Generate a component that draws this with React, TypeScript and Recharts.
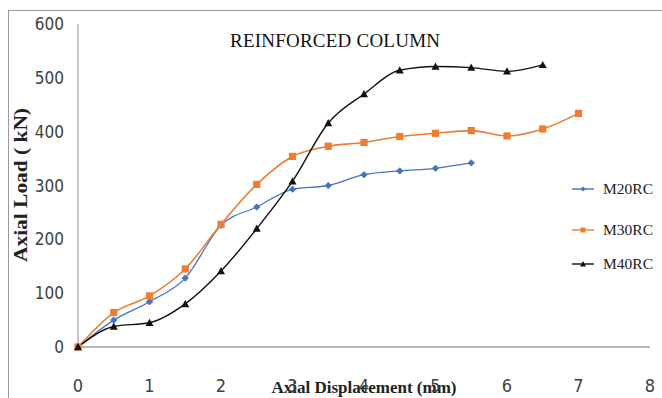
import React from 'react';
import { LineChart, Line, XAxis, YAxis } from 'recharts';

const displacement = [0, 0.5, 1, 1.5, 2, 2.5, 3, 3.5, 4, 4.5, 5, 5.5, 6, 6.5, 7];
const m20rc = [0, 50, 84, 128, 226, 260, 293, 300, 320, 327, 332, 342];
const m30rc = [0, 64, 95, 145, 228, 302, 354, 373, 380, 391, 397, 402, 392, 405, 434];
const m40rc = [0, 38, 45, 80, 141, 220, 308, 416, 470, 514, 521, 519, 512, 524];
const xTicks = [0, 1, 2, 3, 4, 5, 6, 7, 8];
const yTicks = [0, 100, 200, 300, 400, 500, 600];

const seriesNames = ['M20RC', 'M30RC', 'M40RC'];
const colors = ['#4472C4', '#ED7D31', '#111111'];

const data = displacement.map((d, i) => ({
  x: d,
  M20RC: m20rc[i],
  M30RC: m30rc[i],
  M40RC: m40rc[i],
}));

const Diamond = (props: any) => {
  const { cx, cy, key } = props;
  if (cx == null || cy == null || props.value == null) return <g key={key} />;
  const s = 3.2;
  return (
    <path key={key} d={`M${cx},${cy - s}L${cx + s},${cy}L${cx},${cy + s}L${cx - s},${cy}Z`} fill={colors[0]} stroke={colors[0]} strokeWidth={0.8} />
  );
};
const Square = (props: any) => {
  const { cx, cy, key } = props;
  if (cx == null || cy == null || props.value == null) return <g key={key} />;
  const s = 3.6;
  return <rect key={key} x={cx - s} y={cy - s} width={2 * s} height={2 * s} fill={colors[1]} />;
};
const Triangle = (props: any) => {
  const { cx, cy, key } = props;
  if (cx == null || cy == null || props.value == null) return <g key={key} />;
  const s = 4;
  return <path key={key} d={`M${cx},${cy - s}L${cx + s},${cy + s * 0.8}L${cx - s},${cy + s * 0.8}Z`} fill={colors[2]} />;
};

const tickFont = "'Liberation Sans Narrow', 'DejaVu Sans Condensed', 'Liberation Sans', sans-serif";

const XTick = (props: any) => {
  const { x, y, payload } = props;
  return (
    <text x={x} y={y + 45} textAnchor="middle" fontFamily={tickFont} fontSize={18} fill="#404040">
      {payload.value}
    </text>
  );
};
const YTick = (props: any) => {
  const { x, y, payload } = props;
  return (
    <text x={x - 14} y={y} dy="0.36em" textAnchor="end" fontFamily={tickFont} fontSize={17} fill="#404040">
      {payload.value}
    </text>
  );
};

const legendY = [189, 230, 264];

export default function App() {
  return (
    <div style={{ position: 'absolute', left: 0, top: 0, width: 662, height: 398, background: '#fff', overflow: 'hidden' }}>
      <div style={{ position: 'absolute', left: 8, top: 10, width: 700, height: 420, borderTop: '1px solid #9a9a9a', borderLeft: '1px solid #9a9a9a' }} />
      <div style={{ position: 'absolute', left: 0, top: 0 }}>
        <LineChart width={662} height={398} data={data} margin={{ top: 24, right: 12, bottom: 0, left: 0 }}>
          <XAxis
            dataKey="x"
            type="number"
            domain={[0, 8]}
            ticks={xTicks}
            height={51}
            tickLine={false}
            tickSize={0}
            tickMargin={0}
            tick={<XTick />}
            axisLine={{ stroke: '#a0a0a0', strokeWidth: 1.5 }}
          />
          <YAxis
            type="number"
            domain={[0, 600]}
            ticks={yTicks}
            width={78}
            tickLine={false}
            tickSize={0}
            tickMargin={0}
            tick={<YTick />}
            axisLine={{ stroke: '#a0a0a0', strokeWidth: 1.2 }}
          />
          <Line dataKey="M20RC" type="monotone" stroke={colors[0]} strokeWidth={1.3} dot={<Diamond />} activeDot={false} isAnimationActive={false} />
          <Line dataKey="M30RC" type="monotone" stroke={colors[1]} strokeWidth={1.6} dot={<Square />} activeDot={false} isAnimationActive={false} />
          <Line dataKey="M40RC" type="monotone" stroke={colors[2]} strokeWidth={1.4} dot={<Triangle />} activeDot={false} isAnimationActive={false} />
          <text x={335} y={47} textAnchor="middle" fontFamily="'Liberation Serif', serif" fontSize={19} fill="#111" textLength={210} lengthAdjust="spacing">
            REINFORCED COLUMN
          </text>
          <rect x={270} y={381} width={190} height={17} fill="#fff" />
          <text x={364} y={393} textAnchor="middle" fontFamily="'Liberation Serif', serif" fontWeight="bold" fontSize={17} fill="#222" textLength={185} lengthAdjust="spacingAndGlyphs">
            Axial Displacement  (mm)
          </text>
          <text transform="translate(27,185) rotate(-90)" x={0} y={0} textAnchor="middle" fontFamily="'Liberation Serif', serif" fontWeight="bold" fontSize={18} fill="#222" textLength={154} lengthAdjust="spacingAndGlyphs">
            Axial Load ( kN)
          </text>
          {seriesNames.map((name, i) => {
            const y = legendY[i];
            const cx = 583;
            return (
              <g key={name}>
                <line x1={572} x2={594} y1={y} y2={y} stroke={colors[i]} strokeWidth={1.4} />
                {i === 0 && <path d={`M${cx},${y - 2.5}L${cx + 2.5},${y}L${cx},${y + 2.5}L${cx - 2.5},${y}Z`} fill={colors[0]} />}
                {i === 1 && <rect x={cx - 2.5} y={y - 2.5} width={5} height={5} fill={colors[1]} />}
                {i === 2 && <path d={`M${cx},${y - 3}L${cx + 3},${y + 2.4}L${cx - 3},${y + 2.4}Z`} fill={colors[2]} />}
                <text x={603} y={y + 5} fontFamily="'Liberation Serif', serif" fontSize={15} fill="#222" textLength={50} lengthAdjust="spacingAndGlyphs">
                  {name}
                </text>
              </g>
            );
          })}
        </LineChart>
      </div>
    </div>
  );
}
